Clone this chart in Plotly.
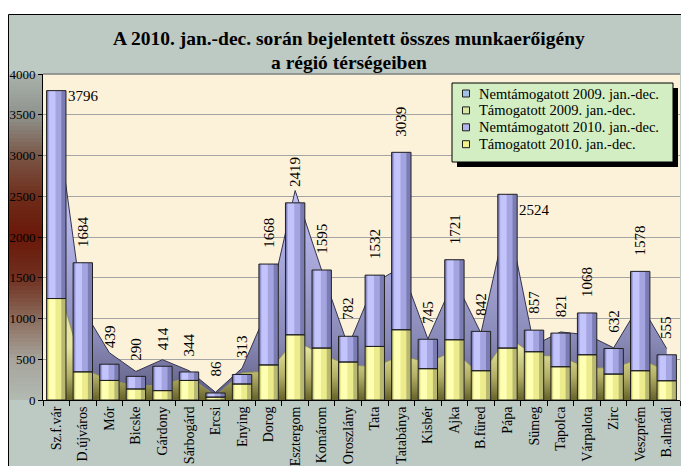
import plotly.graph_objects as go

cats = ["Sz.f.vár", "D.újváros", "Mór", "Bicske", "Gárdony", "Sárbogárd", "Ercsi",
        "Enying", "Dorog", "Esztergom", "Komárom", "Oroszlány", "Tata", "Tatabánya",
        "Kisbér", "Ajka", "B.füred", "Pápa", "Sümeg", "Tapolca", "Várpalota", "Zirc",
        "Veszprém", "B.almádi"]

# 2010 jan.-dec. (bars): totals (labels) and supported part
tot2010 = [3796, 1684, 439, 290, 414, 344, 86, 313, 1668, 2419, 1595, 782, 1532, 3039,
           745, 1721, 842, 2524, 857, 821, 1068, 632, 1578, 555]
tam2010 = [1245, 345, 240, 135, 115, 240, 35, 196, 430, 800, 637, 466, 657, 862,
           384, 739, 359, 637, 592, 408, 555, 318, 359, 236]

# 2009 jan.-dec. (areas): supported part and total
tam2009 = [1500, 385, 245, 175, 180, 290, 50, 335, 355, 730, 560, 430, 410, 545,
           460, 605, 300, 780, 550, 535, 393, 395, 505, 355]
tot2009 = [3500, 1120, 580, 350, 495, 360, 95, 390, 1140, 2570, 1590, 660, 1440, 1630,
           750, 1480, 820, 2270, 670, 835, 800, 640, 1180, 630]

legend_names = ["Nemtámogatott 2009. jan.-dec.", "Támogatott 2009. jan.-dec.",
                "Nemtámogatott 2010. jan.-dec.", "Támogatott 2010. jan.-dec."]
legend_colors = ["#a4c0e4", "#d8e8a4", "#b4b4ec", "#f2f28c"]

title1 = "A 2010. jan.-dec. során bejelentett összes munkaerőigény"
title2 = "a régió térségeiben"

nem2010 = [t - s for t, s in zip(tot2010, tam2010)]

FONT = "Liberation Serif"
W, H = 681, 466
L, R, T, B = 43, 1, 74, 66
PW = W - L - R
PH = H - T - B


def pxx(p):
    return (p - L) / PW


def pyy(p):
    return (H - B - p) / PH


fig = go.Figure()

# 2009 areas (behind, main axes)
fig.add_trace(go.Scatter(
    x=cats, y=tam2009, mode="lines", fill="tozeroy",
    line=dict(color="#8c8c50", width=0.8),
    fillgradient=dict(type="vertical",
                      colorscale=[[0, "#66622a"], [0.45, "#b4b066"], [1, "#e6e6a0"]],
                      start=0, stop=650),
    showlegend=False, hoverinfo="skip"))
fig.add_trace(go.Scatter(
    x=cats, y=tot2009, mode="lines", fill="tonexty",
    line=dict(color="#34344e", width=1),
    fillgradient=dict(type="vertical",
                      colorscale=[[0, "#5c5c80"], [0.3, "#8a8ab8"], [1, "#c0c0f6"]],
                      start=0, stop=2500),
    showlegend=False, hoverinfo="skip"))


def add_bar(vals, base, colors):
    layers = [(0.73, -0.365, colors[0]), (0.50, -0.31, colors[1]), (0.24, -0.27, colors[2])]
    for w, o, c in layers:
        fig.add_trace(go.Bar(x=cats, y=vals, base=base, width=w, offset=o,
                             marker=dict(color=c, line=dict(width=0)),
                             xaxis="x2", yaxis="y2", showlegend=False, hoverinfo="skip"))


add_bar(tam2010, None, ["#b8b870", "#ecec8c", "#ffffb4"])
add_bar(nem2010, tam2010, ["#7c7cb4", "#a4a4e0", "#c4c4fc"])
for vals, base in [(tam2010, None), (nem2010, tam2010)]:
    fig.add_trace(go.Bar(x=cats, y=vals, base=base, width=0.73, offset=-0.365,
                         marker=dict(color="rgba(0,0,0,0)", line=dict(color="#202020", width=1)),
                         xaxis="x2", yaxis="y2", showlegend=False, hoverinfo="skip"))

# data labels
special = {"Sz.f.vár": -5, "Pápa": -16}
ann = []
for c, v in zip(cats, tot2010):
    if c in special:
        ann.append(dict(x=c, y=v, xref="x", yref="y", text=str(v), showarrow=False,
                        xanchor="left", yanchor="middle", xshift=10, yshift=special[c],
                        font=dict(family=FONT, size=15, color="black")))
    else:
        ann.append(dict(x=c, y=v, xref="x", yref="y", text=str(v), showarrow=False,
                        textangle=-90, xanchor="center", yanchor="bottom", yshift=14,
                        font=dict(family=FONT, size=15, color="black")))
ann.append(dict(x=pxx(349), y=pyy(39), xref="paper", yref="paper", text="<b>" + title1 + "</b>",
                showarrow=False, xanchor="center", yanchor="middle",
                font=dict(family=FONT, size=19.5, color="black")))
ann.append(dict(x=pxx(349), y=pyy(62), xref="paper", yref="paper", text="<b>" + title2 + "</b>",
                showarrow=False, xanchor="center", yanchor="middle",
                font=dict(family=FONT, size=19.5, color="black")))

# background shapes
shapes = [
    dict(type="rect", xref="paper", yref="paper", x0=pxx(8.5), x1=pxx(720), y0=pyy(500), y1=pyy(14.5),
         fillcolor="#bdc9c3", line=dict(color="black", width=1), layer="below"),
    dict(type="rect", xref="paper", yref="paper", x0=0, x1=1, y0=0, y1=1,
         fillcolor="#fcf1d9", line=dict(width=0), layer="below"),
]
stops = [(74, (0xaa, 0xb2, 0xac)), (116, (0x8e, 0x92, 0x8c)), (157, (0x7a, 0x54, 0x44)),
         (200, (0x6e, 0x2a, 0x18)), (237, (0x6a, 0x18, 0x08)), (278, (0x70, 0x30, 0x20)),
         (319, (0x8c, 0x6c, 0x5c)), (360, (0xa6, 0xa4, 0x9c)), (400, (0xb2, 0xba, 0xb2))]


def col_at(p):
    for (p0, c0), (p1, c1) in zip(stops[:-1], stops[1:]):
        if p0 <= p <= p1:
            t = (p - p0) / (p1 - p0)
            return "rgb(%d,%d,%d)" % tuple(round(a + (b - a) * t) for a, b in zip(c0, c1))
    return "rgb(%d,%d,%d)" % stops[-1][1]


step = 4
p = 74
while p < 400:
    shapes.append(dict(type="rect", xref="paper", yref="paper", x0=pxx(9), x1=0,
                       y0=pyy(min(p + step, 400)), y1=pyy(p), fillcolor=col_at(p + step / 2),
                       line=dict(width=0), layer="below"))
    p += step
shapes.append(dict(type="line", xref="paper", yref="paper", x0=0, x1=1, y0=1, y1=1,
                   line=dict(color="#808080", width=1.5), layer="above"))

# legend (drawn box with shadow)
LX0, LX1, LY0, LY1 = 452, 673, 83, 162
shapes.append(dict(type="rect", xref="paper", yref="paper", x0=pxx(LX0 + 5), x1=pxx(LX1 + 5),
                   y0=pyy(LY1 + 5), y1=pyy(LY0 + 5), fillcolor="black", line=dict(width=0),
                   layer="above"))
shapes.append(dict(type="rect", xref="paper", yref="paper", x0=pxx(LX0), x1=pxx(LX1),
                   y0=pyy(LY1), y1=pyy(LY0), fillcolor="#d2eec2",
                   line=dict(color="black", width=1), layer="above"))
for k, (n, c) in enumerate(zip(legend_names, legend_colors)):
    yc = 93.5 + k * 16.9
    shapes.append(dict(type="rect", xref="paper", yref="paper", x0=pxx(462.5), x1=pxx(469.5),
                       y0=pyy(yc + 3.5), y1=pyy(yc - 3.5), fillcolor=c,
                       line=dict(color="#202020", width=1), layer="above"))
    ann.append(dict(x=pxx(477), y=pyy(yc), xref="paper", yref="paper", text=n, showarrow=False,
                    xanchor="left", yanchor="middle",
                    font=dict(family=FONT, size=14.5, color="black")))

fig.update_layout(
    width=W, height=H,
    margin=dict(l=L, r=R, t=T, b=B, pad=0),
    paper_bgcolor="white", plot_bgcolor="rgba(0,0,0,0)",
    barmode="overlay",
    showlegend=False,
    xaxis=dict(type="category", categoryorder="array", categoryarray=cats, range=[-0.5, 23.5],
               showline=True, linecolor="black", linewidth=1, ticks="outside",
               tickson="boundaries", ticklen=5, tickcolor="black", tickangle=-90,
               tickfont=dict(family=FONT, size=14, color="black"), showgrid=False,
               zeroline=False),
    yaxis=dict(range=[0, 4000], dtick=500, showline=True, linecolor="black", linewidth=1,
               ticks="outside", ticklen=4, tickcolor="black",
               tickfont=dict(family=FONT, size=13, color="black"),
               showgrid=True, gridcolor="#a4a4a4", gridwidth=1, zeroline=False),
    xaxis2=dict(type="category", categoryorder="array", categoryarray=cats, overlaying="x",
                matches="x", anchor="y2", visible=False),
    yaxis2=dict(overlaying="y", matches="y", anchor="x2", visible=False),
    annotations=ann,
    shapes=shapes,
    font=dict(family=FONT, color="black"),
)

fig.write_html("out.html", config={"displayModeBar": False},
               post_script="document.body.style.margin='0';document.body.style.overflow='hidden';")
